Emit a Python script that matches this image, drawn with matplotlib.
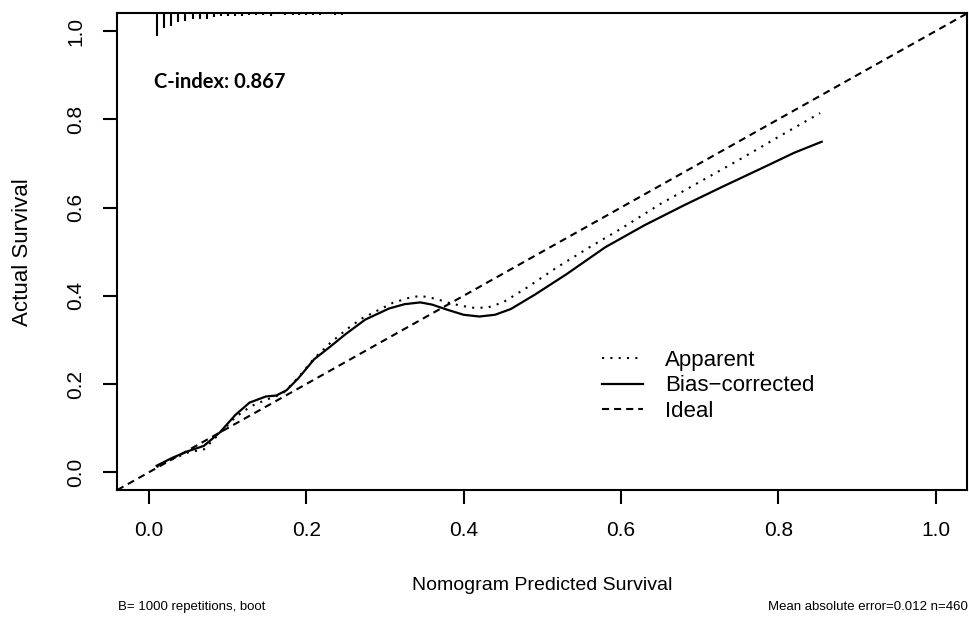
import numpy as np
import matplotlib
matplotlib.use("Agg")
import matplotlib.pyplot as plt

plt.rcParams['font.family'] = ['Liberation Sans', 'DejaVu Sans']

# calibration curves (predicted -> observed)
apparent_x = [0.010, 0.030, 0.050, 0.070, 0.090, 0.110, 0.130, 0.150, 0.170, 0.190,
              0.210, 0.230, 0.250, 0.270, 0.290, 0.310, 0.330, 0.345, 0.365, 0.385,
              0.410, 0.430, 0.450, 0.480, 0.520, 0.560, 0.600, 0.650, 0.700, 0.750,
              0.800, 0.853]
apparent_y = [0.012, 0.030, 0.045, 0.052, 0.088, 0.125, 0.150, 0.165, 0.178, 0.215,
              0.258, 0.292, 0.322, 0.348, 0.366, 0.384, 0.395, 0.400, 0.393, 0.382,
              0.373, 0.373, 0.385, 0.418, 0.466, 0.510, 0.552, 0.608, 0.658, 0.708,
              0.760, 0.814]

corrected_x = [0.010, 0.030, 0.050, 0.070, 0.090, 0.110, 0.128, 0.149, 0.162, 0.175,
               0.190, 0.210, 0.230, 0.250, 0.275, 0.305, 0.325, 0.345, 0.360, 0.380,
               0.400, 0.420, 0.440, 0.460, 0.490, 0.530, 0.580, 0.630, 0.680, 0.730,
               0.780, 0.820, 0.855]
corrected_y = [0.015, 0.033, 0.048, 0.060, 0.090, 0.130, 0.158, 0.172, 0.174, 0.186,
               0.213, 0.256, 0.284, 0.313, 0.346, 0.371, 0.381, 0.385, 0.380, 0.368,
               0.357, 0.353, 0.357, 0.370, 0.402, 0.448, 0.510, 0.560, 0.605, 0.648,
               0.690, 0.724, 0.749]

# distribution of predicted risks shown along the top edge
rug_x = [0.0102, 0.0190, 0.0279, 0.0373, 0.0466, 0.0558, 0.0647, 0.0736, 0.0825,
         0.0919, 0.1008, 0.1096, 0.1185, 0.1279, 0.1367, 0.1456, 0.1550, 0.1735,
         0.1828, 0.1912, 0.1996, 0.2090, 0.2179, 0.2362, 0.2451]
rug_len = [0.052, 0.034, 0.029, 0.020, 0.017, 0.014, 0.013, 0.012, 0.0075,
           0.006, 0.005, 0.005, 0.005, 0.004, 0.004, 0.004, 0.005, 0.004,
           0.004, 0.004, 0.004, 0.004, 0.004, 0.004, 0.004]

ticks = [0.0, 0.2, 0.4, 0.6, 0.8, 1.0]
c_index = 0.867
n_boot = 1000
mae = 0.012
n_obs = 460

fig = plt.figure(figsize=(9.7, 6.25), dpi=100)
ax = fig.add_axes([117.3 / 970, 1 - 490 / 625, 850 / 970, 476.7 / 625])
lim = (-0.04, 1.04)
ax.set_xlim(lim)
ax.set_ylim(lim)

ax.plot(apparent_x, apparent_y, color='black', lw=1.5, linestyle=(0, (1, 3)),
        label='Apparent')
ax.plot(corrected_x, corrected_y, color='black', lw=1.6, label='Bias\u2212corrected')
ax.axline((0, 0), slope=1, color='black', lw=1.5, linestyle=(0, (3.4, 2.4)),
          label='Ideal')

top = lim[1]
ax.vlines(rug_x, [top - l for l in rug_len], top, color='black', lw=1.5)

ax.text(0.007, 0.884, 'C-index: %.3f' % c_index, fontsize=14.5, fontweight='bold',
        family=['Lato', 'DejaVu Sans'], va='center', ha='left')

ax.set_xticks(ticks)
ax.set_yticks(ticks)
ax.set_xticklabels(['%.1f' % t for t in ticks])
ax.set_yticklabels(['%.1f' % t for t in ticks])
ax.tick_params(axis='both', length=10, width=1.5, labelsize=15)
ax.tick_params(axis='x', pad=12)
ax.tick_params(axis='y', pad=13, labelrotation=90)
for lab in ax.get_yticklabels():
    lab.set_va('center')
for s in ax.spines.values():
    s.set_linewidth(1.5)

ax.set_xlabel('Nomogram Predicted Survival', fontsize=14)
ax.xaxis.set_label_coords(0.5, -0.1825)
ax.set_ylabel('Actual Survival', fontsize=16)
ax.yaxis.set_label_coords(-0.099, 0.5)

leg = ax.legend(loc='upper left', bbox_to_anchor=(0.570, 0.294), frameon=False,
                fontsize=16, handlelength=1.85, handletextpad=1.0,
                labelspacing=0.2, borderpad=0, borderaxespad=0)

fig.text(118 / 970, 1 - 607 / 625, 'B= %d repetitions, boot' % n_boot,
         fontsize=9.5, ha='left', va='center')
fig.text(968 / 970, 1 - 607 / 625, 'Mean absolute error=%.3f n=%d' % (mae, n_obs),
         fontsize=9.5, ha='right', va='center')

fig.savefig('out.png', dpi=100)
